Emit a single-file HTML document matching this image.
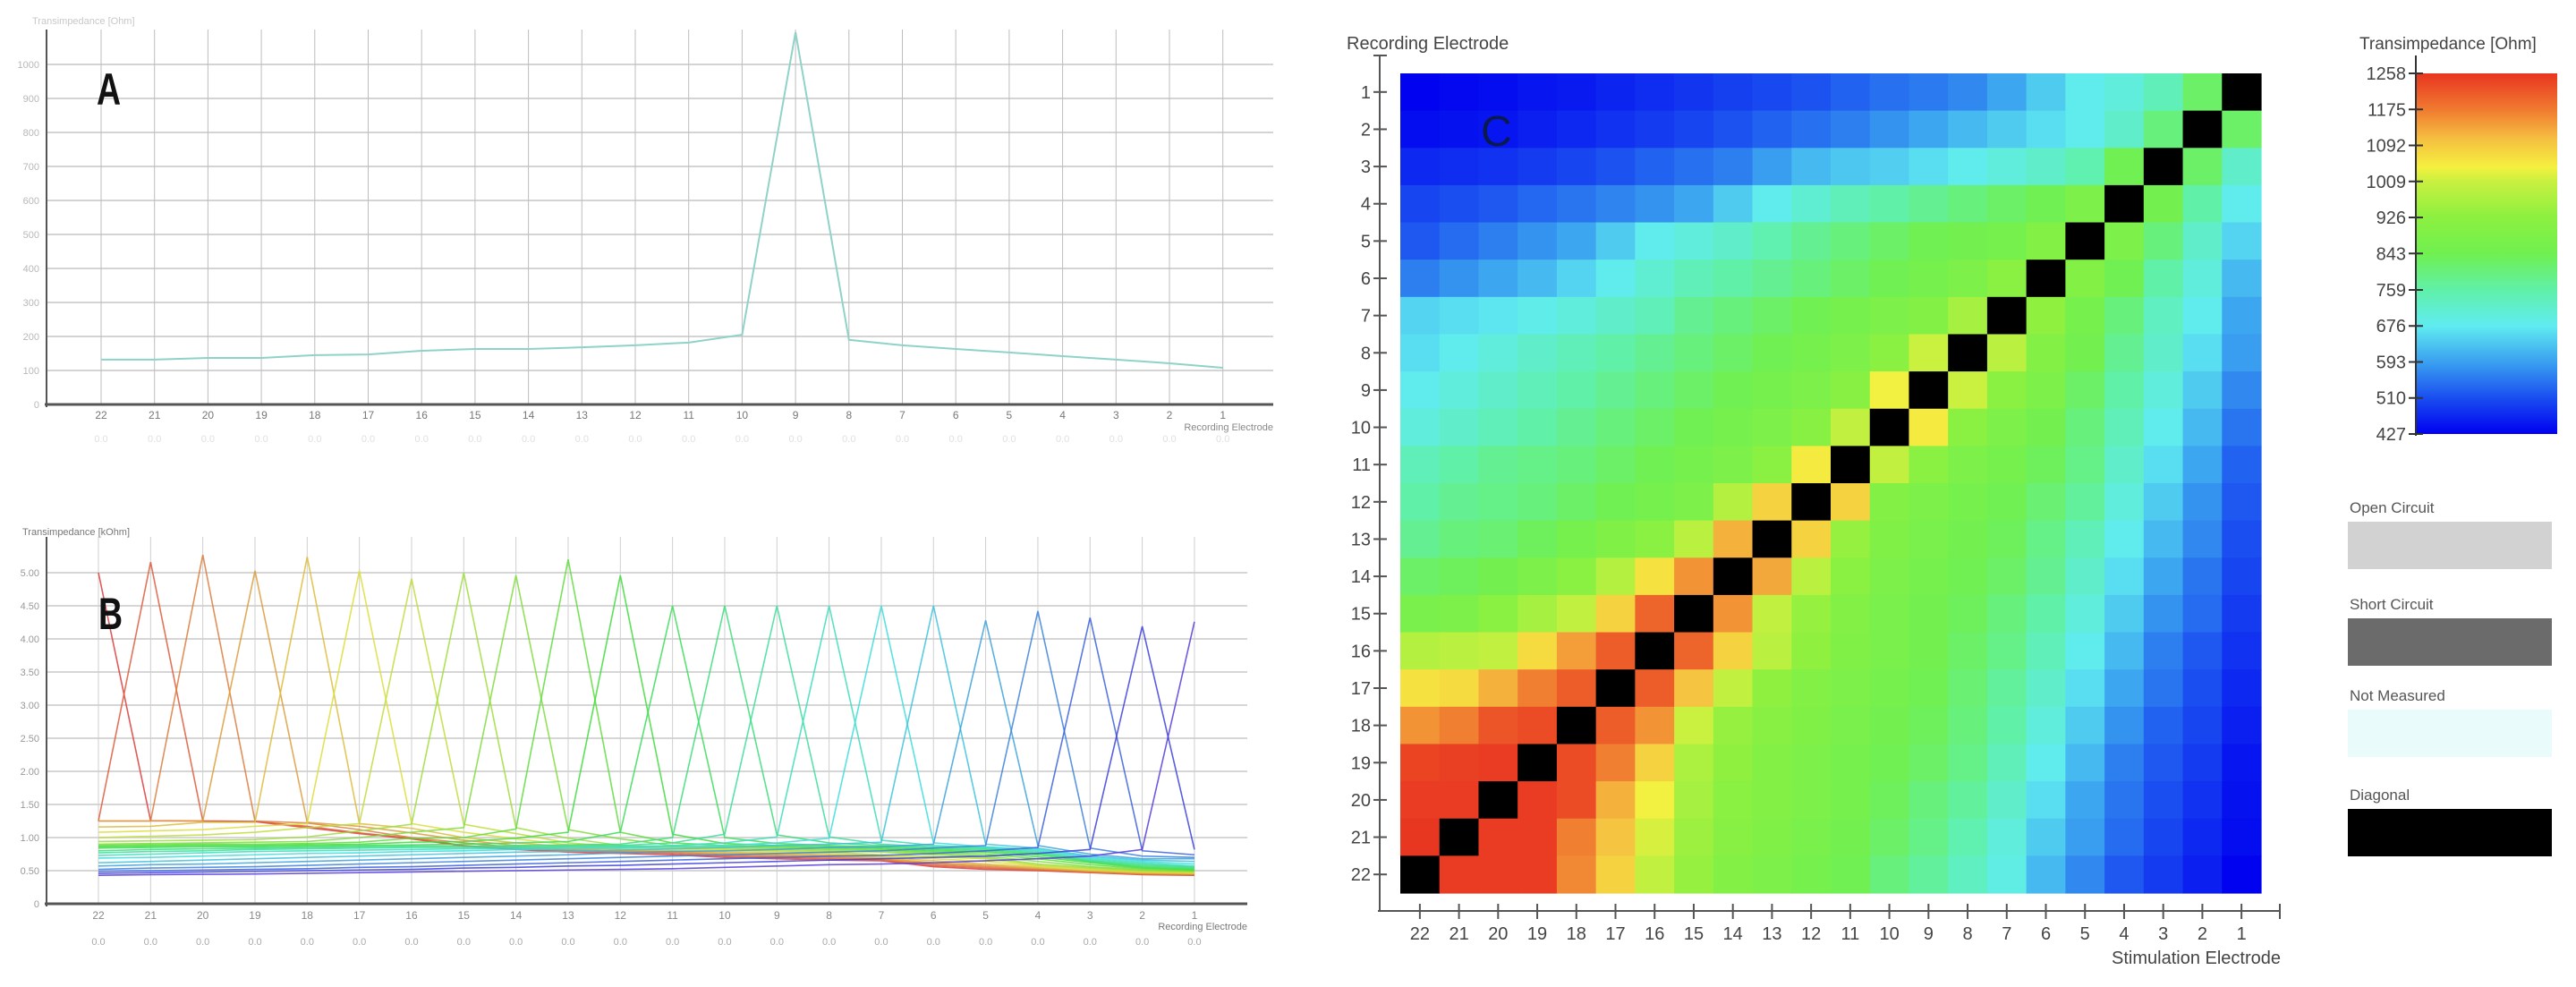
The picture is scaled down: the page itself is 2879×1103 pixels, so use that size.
<!DOCTYPE html>
<html><head><meta charset="utf-8"><style>
html,body{margin:0;padding:0;background:#fff;}
svg{display:block;font-family:"Liberation Sans",sans-serif;}
</style></head><body>
<svg id="fig" xmlns="http://www.w3.org/2000/svg" width="2879" height="1103" viewBox="0 0 2879 1103">
<rect width="2879" height="1103" fill="#fff"/>
<g id="panelA"></g>
<g id="panelB"></g>
<g id="panelC"></g>
<g id="legend"></g>
</svg>
<script>
// ---------- DATA ----------
const electrodes = [22,21,20,19,18,17,16,15,14,13,12,11,10,9,8,7,6,5,4,3,2,1];
// Panel A: single stimulation (electrode 9), values in Ohm by recording electrode 22..1
const aValues = [132,132,137,137,145,147,158,163,163,168,174,182,205,1095,190,174,163,153,142,132,121,108];
const aTicks = ["0","100","200","300","400","500","600","700","800","900","1000"];
// Panel B: peak (self) value per stimulation electrode 22..1 in kOhm
const bPeaks = [5.0,5.16,5.27,5.03,5.24,5.03,4.91,5.0,4.96,5.2,4.96,4.5,4.5,4.5,4.5,4.5,4.5,4.28,4.42,4.32,4.19,4.26];
const bTicks = ["0","0.50","1.00","1.50","2.00","2.50","3.00","3.50","4.00","4.50","5.00"];
// Panel C: transimpedance [Ohm]; rows = recording electrode 1..22, columns = stimulation 22..1
const hmRows = [
[430,435,440,450,455,465,475,485,495,505,515,530,545,555,570,600,640,680,700,740,820,null],
[440,445,450,460,470,480,490,500,515,530,545,560,580,600,620,640,660,680,720,800,null,820],
[470,475,480,490,500,515,530,545,560,590,620,635,645,660,680,700,720,750,840,null,820,720],
[500,510,520,535,550,565,580,600,640,680,710,740,760,780,800,820,840,880,null,850,760,680],
[520,540,560,580,600,640,680,700,720,750,780,800,820,840,850,860,900,null,880,800,720,650],
[560,580,600,620,650,680,710,740,760,780,800,820,840,860,880,920,null,900,840,760,700,620],
[650,660,670,685,700,720,740,780,800,820,840,860,880,900,960,null,930,860,800,730,680,600],
[660,680,700,720,740,760,780,800,820,840,860,880,920,1010,null,990,900,850,780,720,660,590],
[680,700,720,740,760,780,800,820,840,860,880,910,1040,null,1010,920,880,820,760,700,640,570],
[700,720,740,760,780,800,820,840,860,880,910,1000,null,1050,920,880,850,800,740,680,620,550],
[740,760,780,790,800,820,840,860,880,920,1050,null,1000,920,880,860,830,790,720,660,600,530],
[760,780,790,800,820,840,860,880,980,1080,null,1080,900,880,860,840,810,770,700,640,580,520],
[780,800,810,830,860,890,920,990,1120,null,1080,940,890,870,850,830,790,740,680,620,570,510],
[820,830,850,880,920,980,1060,1150,null,1130,990,920,880,860,840,820,780,720,660,600,550,500],
[870,880,920,960,1000,1080,1200,null,1150,1000,940,900,870,850,830,800,760,700,640,580,540,490],
[980,990,1000,1070,1140,1210,null,1200,1080,990,930,890,870,850,820,790,740,680,620,560,520,480],
[1060,1070,1120,1170,1210,null,1210,1100,1000,930,900,880,860,840,810,770,720,660,600,550,510,470],
[1150,1170,1220,1230,null,1210,1150,1010,940,910,890,870,850,830,800,760,700,640,580,530,500,460],
[1240,1245,1250,null,1230,1170,1080,970,930,900,880,860,840,820,790,740,680,620,560,520,490,450],
[1250,1250,null,1250,1230,1120,1040,960,920,900,880,860,830,800,770,720,660,600,550,510,480,445],
[1255,null,1250,1250,1170,1100,1020,950,910,890,870,850,820,790,750,700,640,590,540,500,470,440],
[null,1250,1250,1250,1160,1080,1000,940,900,880,860,840,800,770,730,690,620,570,520,490,460,430]
];
const cbTicks = [1258,1175,1092,1009,926,843,759,676,593,510,427];
const legendLabels = ["Open Circuit","Short Circuit","Not Measured","Diagonal"];
const legendColors = ["#d2d2d2","#6b6b6b","#eafbfb","#000000"];

// ---------- HELPERS ----------
const NS="http://www.w3.org/2000/svg";
function mk(parent,tag,attrs,text){const e=document.createElementNS(NS,tag);for(const k in attrs)e.setAttribute(k,attrs[k]);if(text!==undefined)e.textContent=text;parent.appendChild(e);return e;}

// ---------- PANEL A ----------
const A=document.getElementById('panelA');
const aX=i=>113+i*59.7, aY=v=>452-v*0.38;
for(let k=1;k<aTicks.length;k++){const y=aY(k*100);
 const g=mk(A,'line',{x1:52,x2:1423,y1:y,y2:y,stroke:'#d4d4d4','stroke-width':2});
 }
for(let k=0;k<aTicks.length;k++){const t=mk(A,'text',{x:44,y:aY(k*100)+4,'font-size':11,fill:'#b8b8b8','text-anchor':'end'},aTicks[k]);
 }
electrodes.forEach((e,i)=>{
 const l=mk(A,'line',{x1:aX(i),x2:aX(i),y1:33,y2:452,stroke:'#bdbdbd','stroke-width':1});
 
 const t=mk(A,'text',{x:aX(i),y:468,'font-size':12,fill:'#777','text-anchor':'middle'},String(e));
 
 const t2=mk(A,'text',{x:aX(i),y:494,'font-size':11,fill:'#e0e0e0','text-anchor':'middle'},'0.0');
 
});
let ax=mk(A,'line',{x1:52,x2:52,y1:33,y2:455,stroke:'#555','stroke-width':2});

ax=mk(A,'line',{x1:50,x2:1423,y1:452,y2:452,stroke:'#555','stroke-width':3});

let tt=mk(A,'text',{x:36,y:27,'font-size':11,fill:'#c8c8c8'},'Transimpedance [Ohm]');

tt=mk(A,'text',{x:1423,y:481,'font-size':11,fill:'#888','text-anchor':'end'},'Recording Electrode');

let pl=mk(A,'polyline',{points:aValues.map((v,i)=>aX(i)+','+aY(v)).join(' '),fill:'none',stroke:'#8fd3c8','stroke-width':2});

tt=mk(A,'text',{x:0,y:0,'font-size':50,'font-weight':'bold',fill:'#111',transform:'translate(108,117) scale(0.75,1)'},'A');


// ---------- PANEL B ----------
const B=document.getElementById('panelB');
const bX=i=>110+i*58.33, bY=v=>1010-v*74;
for(let k=1;k<bTicks.length;k++){const y=bY(k*0.5);
 const g=mk(B,'line',{x1:52,x2:1394,y1:y,y2:y,stroke:'#d6d6d6','stroke-width':2});
 }
for(let k=0;k<bTicks.length;k++){const t=mk(B,'text',{x:44,y:bY(k*0.5)+4,'font-size':11,fill:'#999','text-anchor':'end'},bTicks[k]);
 }
electrodes.forEach((e,i)=>{
 const l=mk(B,'line',{x1:bX(i),x2:bX(i),y1:600,y2:1010,stroke:'#cfcfcf','stroke-width':1});
 
 const t=mk(B,'text',{x:bX(i),y:1027,'font-size':12,fill:'#888','text-anchor':'middle'},String(e));
 
 const t2=mk(B,'text',{x:bX(i),y:1056,'font-size':11,fill:'#aaa','text-anchor':'middle'},'0.0');
 
});
electrodes.forEach((s,si)=>{
 const hue=Math.round(si*250/21);
 const pts=electrodes.map((r,ri)=>{const v=(r===s)?bPeaks[si]:hmRows[r-1][si]/1000;return bX(ri)+','+bY(v);}).join(' ');
 const p=mk(B,'polyline',{points:pts,fill:'none',stroke:'hsl('+hue+',70%,55%)','stroke-width':1.6,'stroke-opacity':0.85});
 
});
ax=mk(B,'line',{x1:52,x2:52,y1:600,y2:1013,stroke:'#555','stroke-width':2});

ax=mk(B,'line',{x1:50,x2:1394,y1:1010,y2:1010,stroke:'#555','stroke-width':3});

tt=mk(B,'text',{x:25,y:598,'font-size':11,fill:'#777'},'Transimpedance [kOhm]');

tt=mk(B,'text',{x:1394,y:1039,'font-size':11,fill:'#777','text-anchor':'end'},'Recording Electrode');

tt=mk(B,'text',{x:0,y:0,'font-size':50,'font-weight':'bold',fill:'#111',transform:'translate(110,703) scale(0.75,1)'},'B');


// ---------- PANEL C ----------
const C=document.getElementById('panelC');
const vMin=427,vMax=1258;
const stops=[[0,[0,0,240]],[0.1,[26,78,240]],[0.2,[58,160,240]],[0.3,[96,236,240]],[0.4,[96,240,168]],[0.5,[112,240,80]],[0.6,[140,240,64]],[0.7,[200,240,64]],[0.74,[245,240,64]],[0.82,[245,190,64]],[0.9,[240,122,48]],[1,[232,53,32]]];
function cmap(v){let t=(v-vMin)/(vMax-vMin);t=Math.max(0,Math.min(1,t));
 for(let i=1;i<stops.length;i++){if(t<=stops[i][0]){const a=stops[i-1],b=stops[i];const f=(t-a[0])/(b[0]-a[0]);
  const c=a[1].map((x,j)=>Math.round(x+(b[1][j]-x)*f));return 'rgb('+c.join(',')+')';}}
 return 'rgb(232,53,32)';}
const gL=1565,gT=82,cw=(2527-1565)/22,rh=(998-82)/22;
const cX=ci=>gL+ci*cw, cY=ri=>gT+ri*rh;
hmRows.forEach((row,ri)=>row.forEach((v,ci)=>{
 const r=mk(C,'rect',{x:cX(ci),y:cY(ri),width:cw+0.6,height:rh+0.6,fill:v===null?'#000':cmap(v)});
 
 
}));
ax=mk(C,'line',{x1:1542,x2:1542,y1:62,y2:1019,stroke:'#555','stroke-width':2});

let tk=mk(C,'line',{x1:1535,x2:1550,y1:62,y2:62,stroke:'#555','stroke-width':2});

ax=mk(C,'line',{x1:1540,x2:2548,y1:1018,y2:1018,stroke:'#555','stroke-width':2});

tk=mk(C,'line',{x1:2548,x2:2548,y1:1010,y2:1027,stroke:'#555','stroke-width':2});

for(let r=1;r<=22;r++){const y=cY(r-1)+rh/2;
 const l=mk(C,'line',{x1:1535,x2:1550,y1:y,y2:y,stroke:'#555','stroke-width':2});
 
 const t=mk(C,'text',{x:1532,y:y+7,'font-size':20,fill:'#444','text-anchor':'end'},String(r));
 }
electrodes.forEach((e,ci)=>{const x=cX(ci)+cw/2;
 const l=mk(C,'line',{x1:x,x2:x,y1:1010,y2:1027,stroke:'#555','stroke-width':2});
 
 const t=mk(C,'text',{x:x,y:1050,'font-size':20,fill:'#444','text-anchor':'middle'},String(e));
 });
tt=mk(C,'text',{x:1505,y:55,'font-size':20,fill:'#444'},'Recording Electrode');

tt=mk(C,'text',{x:2549,y:1077,'font-size':20,fill:'#444','text-anchor':'end'},'Stimulation Electrode');

tt=mk(C,'text',{x:1655,y:163,'font-size':48,fill:'#0a1a50'},'C');


// ---------- COLORBAR + LEGEND ----------
const L=document.getElementById('legend');
const defs=mk(L,'defs',{});
const grad=mk(defs,'linearGradient',{id:'cbg',x1:0,y1:1,x2:0,y2:0});
stops.forEach(s=>mk(grad,'stop',{offset:s[0],'stop-color':'rgb('+s[1].join(',')+')'}));
const cbT=82,cbB=485;
const cb=mk(L,'rect',{x:2700,y:cbT,width:158,height:cbB-cbT,fill:'url(#cbg)'});

ax=mk(L,'line',{x1:2700,x2:2700,y1:62,y2:487,stroke:'#333','stroke-width':2});

const cbY=v=>cbB-(v-vMin)/(vMax-vMin)*(cbB-cbT);
cbTicks.forEach(v=>{const y=cbY(v);
 const l=mk(L,'line',{x1:2692,x2:2708,y1:y,y2:y,stroke:'#333','stroke-width':2});
 
 const t=mk(L,'text',{x:2689,y:y+7,'font-size':20,fill:'#444','text-anchor':'end'},String(v));
 });
tt=mk(L,'text',{x:2637,y:55,'font-size':19,fill:'#444'},'Transimpedance [Ohm]');

const legY=[583,691,793,904];
legendLabels.forEach((lab,i)=>{
 const t=mk(L,'text',{x:2626,y:legY[i]-10,'font-size':17,fill:'#555'},lab);
 
 const r=mk(L,'rect',{x:2624,y:legY[i],width:228,height:53,fill:legendColors[i]});
 
});
</script>
</body></html>
